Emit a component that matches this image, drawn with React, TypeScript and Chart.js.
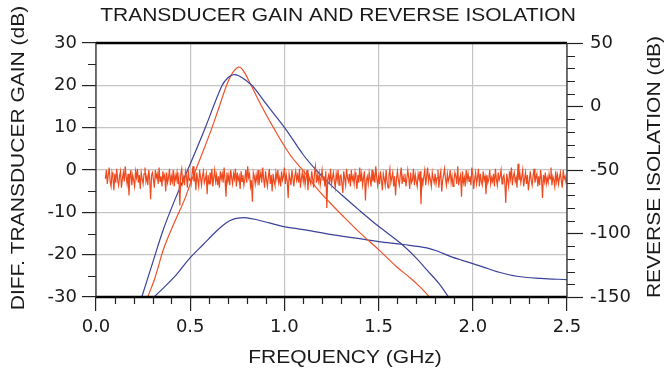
import React, { useEffect, useRef } from "react";
import { Chart, registerables } from "chart.js";

Chart.register(...registerables);

const TITLE = "TRANSDUCER GAIN AND REVERSE ISOLATION";
const X_TITLE = "FREQUENCY (GHz)";
const Y_LEFT_TITLE = "DIFF. TRANSDUCER GAIN (dB)";
const Y_RIGHT_TITLE = "REVERSE ISOLATION (dB)";

const X_TICKS = [0, 0.5, 1.0, 1.5, 2.0, 2.5];
const X_MINOR = [0.1, 0.2, 0.3, 0.4, 0.6, 0.7, 0.8, 0.9, 1.1, 1.2, 1.3, 1.4, 1.6, 1.7, 1.8, 1.9, 2.1, 2.2, 2.3, 2.4];
const Y_LEFT_TICKS = [-30, -20, -10, 0, 10, 20, 30];
const Y_LEFT_MINOR = [-25, -15, -5, 5, 15, 25];
const Y_RIGHT_TICKS = [-150, -100, -50, 0, 50];
const Y_RIGHT_MINOR = [-140, -130, -120, -110, -90, -80, -70, -60, -40, -30, -20, -10, 10, 20, 30, 40];

// Upper blue gain curve
const GAIN_A_F = [0.215, 0.243, 0.30, 0.357, 0.419, 0.5, 0.58, 0.667, 0.70, 0.729, 0.76, 0.80, 0.832, 0.90, 1.003, 1.1, 1.168, 1.243, 1.32, 1.4, 1.5, 1.614, 1.70, 1.756, 1.82, 1.871, 1.9];
const GAIN_A_DB = [-34, -30, -22, -14.1, -7.0, 1.4, 10, 19.8, 21.8, 22.5, 22.2, 21.0, 19.8, 15.8, 9.9, 3.6, 0.0, -3.4, -6.5, -9.6, -13.3, -17.2, -20.8, -23.6, -26.8, -30, -31.8];

// Orange gain curve
const GAIN_B_F = [0.25, 0.275, 0.313, 0.36, 0.42, 0.47, 0.5, 0.56, 0.61, 0.65, 0.689, 0.72, 0.756, 0.78, 0.823, 0.88, 0.942, 1.03, 1.097, 1.17, 1.243, 1.3, 1.4, 1.5, 1.594, 1.668, 1.72, 1.774, 1.8];
const GAIN_B_DB = [-33.5, -30, -25.5, -18.5, -12.0, -7.0, -3.3, 3.5, 9.3, 14.4, 19.5, 22.6, 24.3, 23.6, 20, 15, 10, 3.6, 0.0, -4.2, -7.8, -10.4, -14.8, -18.8, -22.8, -25.5, -27.6, -30.2, -31.5];

// Lower blue gain curve
const GAIN_C_F = [0.29, 0.308, 0.357, 0.427, 0.498, 0.569, 0.64, 0.69, 0.73, 0.77, 0.80, 0.85, 0.92, 0.99, 1.1, 1.243, 1.38, 1.5, 1.63, 1.756, 1.82, 1.88, 1.94, 2.0, 2.06, 2.128, 2.234, 2.36, 2.5];
const GAIN_C_DB = [-31, -30, -27.9, -24.7, -20.8, -17.6, -14.4, -12.5, -11.6, -11.3, -11.3, -11.7, -12.5, -13.3, -14.1, -15.2, -16.1, -16.9, -17.6, -18.4, -19.3, -20.4, -21.3, -22.1, -23.0, -24.0, -25.1, -25.6, -25.9];

// Reverse isolation sweep (right axis), 0.05 .. 2.50 GHz in 0.005 GHz steps
const ISO_F_START = 0.05;
const ISO_F_STEP = 0.005;
const ISO_DB = [
  -57, -50, -61, -54, -48, -59, -63, -52, -56, -66,
  -53, -60, -49, -58, -62, -55, -51, -64, -57, -52,
  -59, -47, -55, -61, -53, -70, -56, -50, -62, -54,
  -58, -63, -51, -56, -49, -60, -54, -65, -52, -57,
  -61, -53, -48, -59, -55, -62, -50, -57, -73, -54,
  -52, -58, -64, -50, -56, -53, -61, -48, -59, -55,
  -63, -51, -57, -54, -67, -52, -60, -56, -49, -62,
  -55, -59, -50, -63, -54, -58, -52, -61, -57, -78,
  -53, -49, -60, -56, -62, -51, -55, -64, -50, -58,
  -57, -61, -53, -47, -59, -54, -66, -52, -58, -63,
  -50, -56, -62, -55, -51, -60, -57, -53, -69, -54,
  -61, -52, -58, -49, -63, -56, -50, -59, -54, -62,
  -55, -64, -51, -57, -53, -60, -48, -58, -71, -52,
  -59, -54, -62, -50, -56, -61, -53, -57, -49, -63,
  -52, -58, -55, -65, -51, -59, -54, -62, -57, -50,
  -60, -47, -56, -53, -63, -58, -75, -52, -55, -61,
  -54, -59, -50, -62, -56, -52, -60, -48, -57, -64,
  -51, -58, -63, -55, -49, -61, -54, -67, -53, -59,
  -62, -52, -57, -50, -60, -56, -63, -51, -58, -55,
  -48, -61, -54, -59, -72, -53, -57, -62, -50, -56,
  -63, -55, -51, -58, -54, -60, -49, -64, -57, -52,
  -59, -53, -62, -56, -50, -66, -55, -58, -61, -51,
  -57, -64, -52, -47, -60, -54, -59, -53, -62, -56,
  -50, -58, -55, -63, -51, -80, -57, -54, -60, -49,
  -61, -56, -52, -59, -64, -53, -58, -50, -62, -55,
  -54, -60, -68, -51, -57, -62, -49, -56, -59, -53,
  -63, -50, -58, -55, -61, -52, -57, -65, -54, -60,
  -48, -59, -53, -62, -56, -51, -74, -58, -55, -61,
  -52, -57, -63, -50, -59, -54, -60, -47, -56, -62,
  -55, -61, -51, -58, -66, -53, -57, -62, -50, -59,
  -64, -54, -49, -60, -56, -52, -63, -55, -70, -57,
  -51, -58, -62, -54, -48, -61, -55, -59, -53, -63,
  -57, -50, -56, -65, -52, -60, -58, -49, -62, -54,
  -59, -63, -53, -57, -51, -77, -56, -61, -55, -50,
  -62, -55, -48, -59, -54, -58, -63, -52, -57, -60,
  -53, -61, -56, -50, -64, -55, -51, -67, -58, -54,
  -49, -57, -62, -53, -59, -56, -50, -60, -55, -63,
  -58, -52, -55, -61, -47, -62, -57, -54, -71, -51,
  -60, -56, -63, -50, -58, -53, -59, -55, -62, -48,
  -54, -65, -57, -52, -61, -56, -49, -63, -53, -59,
  -62, -51, -58, -55, -69, -54, -60, -57, -50, -61,
  -56, -59, -53, -63, -49, -57, -62, -52, -58, -55,
  -50, -61, -56, -54, -60, -76, -53, -58, -63, -51,
  -57, -48, -62, -55, -52, -59, -56, -64, -45, -58,
  -53, -60, -55, -50, -63, -57, -52, -61, -54, -66,
  -59, -51, -58, -62, -55, -49, -60, -56, -53, -63,
  -55, -62, -50, -57, -72, -54, -59, -52, -61, -56,
  -60, -53, -57, -48, -62, -55, -58, -63, -51, -59,
  -54, -61, -56, -52, -59, -64, -50, -57, -55, -60,
  -58,
];

const BLUE = "#3a4299";
const ORANGE = "#f0522a";
const NOISE = "#ef4a1e";
const GRID = "#c4c4c4";
const TITLE_FONT = "'Liberation Sans', Arial, Helvetica, sans-serif";
const TICK_FONT = "'DejaVu Sans', 'Liberation Sans', Arial, sans-serif";
const TEXT = "#1a1a1a";
const TEXT_STRETCH = 1.2;

const pts = (f: number[], v: number[]) => f.map((x, i) => ({ x, y: v[i] }));

function stretchedText(ctx: CanvasRenderingContext2D, text: string, cx: number, cy: number, rot: number) {
  ctx.save();
  ctx.translate(cx, cy);
  if (rot) ctx.rotate(rot);
  ctx.scale(TEXT_STRETCH, 1);
  ctx.fillText(text, 0, 0);
  ctx.restore();
}

const decorPlugin = {
  id: "decor",
  afterDraw(chart: any) {
    const ctx = chart.ctx as CanvasRenderingContext2D;
    const a = chart.chartArea;
    const xs = chart.scales.x;
    const yl = chart.scales.y;
    const yr = chart.scales.y2;
    ctx.save();
    // minor ticks
    ctx.strokeStyle = "#222";
    ctx.lineWidth = 1.2;
    ctx.beginPath();
    X_MINOR.forEach((v) => {
      const px = Math.round(xs.getPixelForValue(v)) + 0.5;
      ctx.moveTo(px, a.bottom);
      ctx.lineTo(px, a.bottom + 7);
    });
    Y_LEFT_MINOR.forEach((v) => {
      const py = Math.round(yl.getPixelForValue(v)) + 0.5;
      ctx.moveTo(a.left - 8, py);
      ctx.lineTo(a.left, py);
    });
    Y_RIGHT_MINOR.forEach((v) => {
      const py = Math.round(yr.getPixelForValue(v)) + 0.5;
      ctx.moveTo(a.right, py);
      ctx.lineTo(a.right + 8, py);
    });
    ctx.stroke();
    // frame: thick top & bottom, thin sides
    ctx.strokeStyle = "#000";
    ctx.lineWidth = 2.5;
    ctx.beginPath();
    ctx.moveTo(a.left, a.top);
    ctx.lineTo(a.right, a.top);
    ctx.moveTo(a.left, a.bottom);
    ctx.lineTo(a.right, a.bottom);
    ctx.stroke();
    ctx.strokeStyle = "#333";
    ctx.lineWidth = 1.3;
    ctx.beginPath();
    ctx.moveTo(a.left, a.top);
    ctx.lineTo(a.left, a.bottom);
    ctx.moveTo(a.right, a.top);
    ctx.lineTo(a.right, a.bottom);
    ctx.stroke();
    // titles
    ctx.fillStyle = TEXT;
    ctx.textAlign = "center";
    ctx.textBaseline = "middle";
    ctx.font = `17.5px ${TITLE_FONT}`;
    stretchedText(ctx, TITLE, 338, 16, 0);
    stretchedText(ctx, X_TITLE, 345, 358, 0);
    stretchedText(ctx, Y_LEFT_TITLE, 19, 158, -Math.PI / 2);
    stretchedText(ctx, Y_RIGHT_TITLE, 655, 167, -Math.PI / 2);
    ctx.restore();
  },
};

export default function App() {
  const ref = useRef<HTMLCanvasElement | null>(null);
  useEffect(() => {
    document.body.style.margin = "0";
    const canvas = ref.current;
    if (!canvas) return;
    const tickFont = { family: TICK_FONT, size: 18 };
    const curve = { pointRadius: 0, tension: 0.35, borderWidth: 1.2, yAxisID: "y" };
    const chart = new Chart(canvas, {
      type: "line",
      data: {
        datasets: [
          {
            label: "Reverse isolation",
            data: ISO_DB.map((v, i) => ({ x: ISO_F_START + i * ISO_F_STEP, y: v })),
            yAxisID: "y2",
            borderColor: NOISE,
            borderWidth: 1.2,
            pointRadius: 0,
            tension: 0,
          },
          { label: "Gain A", data: pts(GAIN_A_F, GAIN_A_DB), borderColor: BLUE, ...curve },
          { label: "Gain B", data: pts(GAIN_B_F, GAIN_B_DB), borderColor: ORANGE, ...curve },
          { label: "Gain C", data: pts(GAIN_C_F, GAIN_C_DB), borderColor: BLUE, ...curve },
        ],
      },
      options: {
        responsive: false,
        animation: false,
        devicePixelRatio: 1,
        layout: { padding: { top: 43, left: 0, right: 0, bottom: 0 } },
        plugins: { legend: { display: false }, tooltip: { enabled: false }, title: { display: false } },
        scales: {
          x: {
            type: "linear",
            min: 0,
            max: 2.5,
            afterBuildTicks: (s: any) => { s.ticks = X_TICKS.map((value) => ({ value })); },
            afterFit: (s: any) => { s.height = 78; },
            ticks: {
              font: tickFont,
              color: TEXT,
              padding: 6,
              maxRotation: 0,
              autoSkip: false,
              callback: (v: any) => Number(v).toFixed(1),
            },
            grid: { color: GRID, lineWidth: 1.2, tickLength: 14, tickColor: "#222", tickWidth: 1.2 },
            border: { display: false },
          },
          y: {
            type: "linear",
            position: "left",
            min: -30,
            max: 30,
            afterBuildTicks: (s: any) => { s.ticks = Y_LEFT_TICKS.map((value) => ({ value })); },
            afterFit: (s: any) => { s.width = 96; },
            ticks: { font: tickFont, color: TEXT, padding: 5, autoSkip: false },
            grid: { color: GRID, lineWidth: 1.2, tickLength: 14, tickColor: "#222", tickWidth: 1.2 },
            border: { display: false },
          },
          y2: {
            type: "linear",
            position: "right",
            min: -150,
            max: 50,
            afterBuildTicks: (s: any) => { s.ticks = Y_RIGHT_TICKS.map((value) => ({ value })); },
            afterFit: (s: any) => { s.width = 98; },
            ticks: { font: tickFont, color: TEXT, padding: 7, autoSkip: false },
            grid: { drawOnChartArea: false, tickLength: 16, tickColor: "#222", tickWidth: 1.2 },
            border: { display: false },
          },
        },
      },
      plugins: [decorPlugin],
    } as any);
    return () => chart.destroy();
  }, []);
  return (
    <div style={{ position: "absolute", left: 0, top: 0, width: 665, height: 375, background: "#fff" }}>
      <canvas ref={ref} width={665} height={375} style={{ display: "block" }} />
    </div>
  );
}
